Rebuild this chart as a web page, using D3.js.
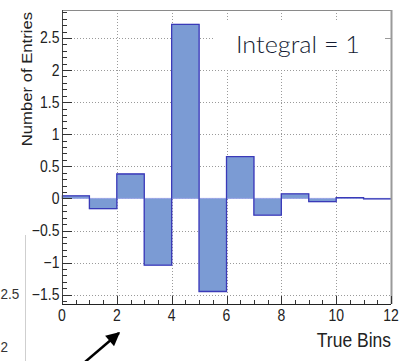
<!DOCTYPE html>
<html>
<head>
<meta charset="utf-8">
<script src="https://cdn.jsdelivr.net/npm/d3@7"></script>
<style>
  html, body { margin: 0; padding: 0; background: #fff; }
  svg { display: block; }
  text { font-family: "Liberation Sans", Arial, sans-serif; }
</style>
</head>
<body>
<svg id="chart" width="405" height="361"></svg>
<script>
// ---- data ----
const binEdges = [0, 1, 2, 3, 4, 5, 6, 7, 8, 9, 10, 11, 12];
const binValues = [0.04, -0.16, 0.38, -1.04, 2.71, -1.45, 0.65, -0.26, 0.07, -0.05, 0.012, -0.006];
const yTicks = [-1.5, -1, -0.5, 0, 0.5, 1, 1.5, 2, 2.5];
const xTicks = [0, 2, 4, 6, 8, 10, 12];
const xTitle = "True Bins";
const yTitle = "Number of Entries";
const legendText = "Integral = 1";

// ---- layout ----
const L = 62, R = 391, T = 10, B = 304;
const svg = d3.select("#chart");
const x = d3.scaleLinear().domain([0, 12]).range([L, R]);
const y = d3.scaleLinear().domain([-1.645, 2.935]).range([B, T]);

// grid
const grid = svg.append("g").attr("stroke", "#9a9a9a").attr("stroke-width", 1)
  .attr("stroke-dasharray", "1,2");
grid.selectAll("line.gy").data(yTicks).join("line")
  .attr("x1", L).attr("x2", R)
  .attr("y1", d => Math.round(y(d)) + 0.5).attr("y2", d => Math.round(y(d)) + 0.5);
grid.selectAll("line.gx").data(xTicks.filter(d => d > 0 && d < 12)).join("line")
  .attr("y1", T).attr("y2", B)
  .attr("x1", d => Math.round(x(d)) + 0.5).attr("x2", d => Math.round(x(d)) + 0.5);

// legend box (white, covers grid)
svg.append("rect").attr("x", 213).attr("y", 20).attr("width", 172).attr("height", 49)
  .attr("fill", "#fff");
svg.append("text").attr("x", 236).attr("y", 53)
  .attr("textLength", 124).attr("lengthAdjust", "spacingAndGlyphs")
  .style("font-family", "Lato, 'Open Sans', sans-serif").style("font-weight", 300)
  .style("font-size", "23px").attr("fill", "#141c33").text(legendText);

// bars
const bins = binValues.map((v, i) => ({ x0: binEdges[i], x1: binEdges[i + 1], v }));
svg.append("g").selectAll("rect").data(bins).join("rect")
  .attr("x", d => x(d.x0)).attr("width", d => x(d.x1) - x(d.x0))
  .attr("y", d => Math.min(y(d.v), y(0))).attr("height", d => Math.abs(y(d.v) - y(0)))
  .attr("fill", "#7b9bd4").attr("stroke", "#9aa6e6").attr("stroke-width", 1);

// step outline
let pts = [];
bins.forEach(d => { pts.push([x(d.x0), y(d.v)]); pts.push([x(d.x1), y(d.v)]); });
svg.append("path").attr("d", d3.line()(pts)).attr("fill", "none")
  .attr("stroke", "#3a3ab8").attr("stroke-width", 1.3);

// frame
svg.append("line").attr("x1", L).attr("x2", R).attr("y1", T + 0.5).attr("y2", T + 0.5)
  .attr("stroke", "#8a8a8a").attr("stroke-width", 1);
svg.append("line").attr("x1", R + 0.5).attr("x2", R + 0.5).attr("y1", T).attr("y2", B)
  .attr("stroke", "#9a9a9a").attr("stroke-width", 2);
svg.append("line").attr("x1", 385).attr("x2", R).attr("y1", Math.round(y(2.5)) + 0.5).attr("y2", Math.round(y(2.5)) + 0.5)
  .attr("stroke", "#9a9a9a").attr("stroke-width", 1);

// y axis
const yAxis = svg.append("g");
yAxis.append("line").attr("x1", L + 0.5).attr("x2", L + 0.5).attr("y1", T).attr("y2", B)
  .attr("stroke", "#444").attr("stroke-width", 1);
const yMinor = d3.range(-16, 30).map(i => i / 10).filter(v => !yTicks.some(t => Math.abs(t - v) < 1e-6));
yAxis.selectAll("line.ymin").data(yMinor).join("line")
  .attr("x1", L).attr("x2", L + 5)
  .attr("y1", d => Math.round(y(d)) + 0.5).attr("y2", d => Math.round(y(d)) + 0.5)
  .attr("stroke", "#333").attr("stroke-width", 1);
yAxis.selectAll("line.ymaj").data(yTicks).join("line")
  .attr("x1", L).attr("x2", L + 10)
  .attr("y1", d => Math.round(y(d)) + 0.5).attr("y2", d => Math.round(y(d)) + 0.5)
  .attr("stroke", "#333").attr("stroke-width", 1);
const fmt = d3.format("~g");
yAxis.selectAll("text").data(yTicks).join("text")
  .attr("transform", d => `translate(59.5,${y(d) + 5.5}) scale(1,1.15)`)
  .attr("text-anchor", "end").style("font-size", "14px").attr("fill", "#222")
  .text(d => fmt(d));
svg.append("text")
  .attr("transform", `translate(31.5,12) rotate(-90) scale(1.15,1)`)
  .attr("text-anchor", "end").style("font-size", "14.5px").attr("fill", "#222")
  .text(yTitle);

// x axis
const xAxis = svg.append("g");
xAxis.append("line").attr("x1", L).attr("x2", R).attr("y1", B + 0.5).attr("y2", B + 0.5)
  .attr("stroke", "#222").attr("stroke-width", 1.2);
const xMinor = d3.range(1, 24).map(i => i / 2).filter(v => v % 2 !== 0);
xAxis.selectAll("line.xmin").data(xMinor).join("line")
  .attr("x1", d => Math.round(x(d)) + 0.5).attr("x2", d => Math.round(x(d)) + 0.5)
  .attr("y1", B).attr("y2", B - 4).attr("stroke", "#333").attr("stroke-width", 1);
xAxis.selectAll("line.xmaj").data(xTicks).join("line")
  .attr("x1", d => Math.round(x(d)) + 0.5).attr("x2", d => Math.round(x(d)) + 0.5)
  .attr("y1", B).attr("y2", B - 8).attr("stroke", "#333").attr("stroke-width", 1);
xAxis.selectAll("text").data(xTicks).join("text")
  .attr("transform", d => `translate(${x(d)},320.5) scale(1,1.15)`)
  .attr("text-anchor", "middle").style("font-size", "14px").attr("fill", "#222")
  .text(d => d);
svg.append("text").attr("transform", "translate(391,346.5) scale(1,1.12)")
  .attr("text-anchor", "end").style("font-size", "17.5px").attr("fill", "#222")
  .text(xTitle);

// leftover fragments of a neighbouring figure
svg.append("line").attr("x1", 25.5).attr("x2", 25.5).attr("y1", 235).attr("y2", 361)
  .attr("stroke", "#cfcfcf").attr("stroke-width", 1);
svg.append("text").attr("transform", "translate(0.5,299) scale(1,1.15)")
  .attr("text-anchor", "start").style("font-size", "13.5px").attr("fill", "#333").text("2.5");
svg.append("text").attr("transform", "translate(0.5,352) scale(1,1.15)")
  .attr("text-anchor", "start").style("font-size", "13.5px").attr("fill", "#333").text("2");

// arrow
const defs = svg.append("defs");
defs.append("marker").attr("id", "ah").attr("viewBox", "0 0 10 10")
  .attr("refX", 9).attr("refY", 5).attr("markerWidth", 6.5).attr("markerHeight", 5.5)
  .attr("markerUnits", "strokeWidth").attr("orient", "auto")
  .append("path").attr("d", "M0,0 L10,5 L0,10 Z").attr("fill", "#000");
svg.append("line").attr("x1", 85).attr("y1", 362).attr("x2", 119).attr("y2", 333)
  .attr("stroke", "#000").attr("stroke-width", 2.5).attr("marker-end", "url(#ah)");
</script>
</body>
</html>
